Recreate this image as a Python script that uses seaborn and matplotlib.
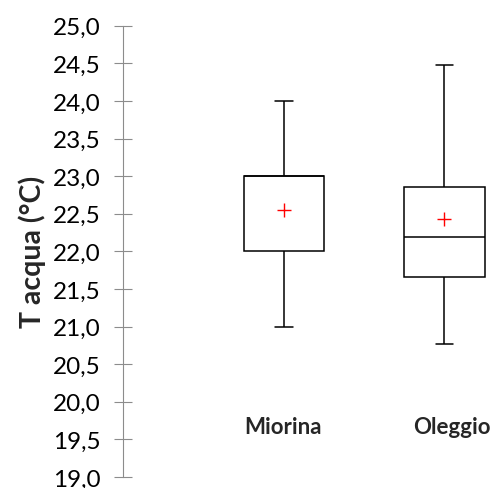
import matplotlib
matplotlib.use("Agg")
import matplotlib.pyplot as plt
import seaborn as sns
import pandas as pd
from matplotlib.ticker import MultipleLocator, FuncFormatter

# Five-number summaries (min, Q1, median, Q3, max) and means per station
categories = ["Miorina", "Oleggio"]
whisker_low = [21.0, 20.77]
q1 = [22.0, 21.66]
median = [23.0, 22.19]
q3 = [23.0, 22.86]
whisker_high = [24.0, 24.48]
means = [22.55, 22.43]

y_ticks_min, y_ticks_max, y_step = 19.0, 25.0, 0.5

sns.set_style("white")
plt.rcParams["font.family"] = ["Lato", "DejaVu Sans"]

# Long-form table: with five sorted values per group, linear percentiles
# land exactly on Q1 / median / Q3, and whis=(0, 100) reaches min / max.
rows = []
for i, cat in enumerate(categories):
    for v in (whisker_low[i], q1[i], median[i], q3[i], whisker_high[i]):
        rows.append({"station": cat, "temp": v})
df = pd.DataFrame(rows)

fig = plt.figure(figsize=(4.91, 4.89), dpi=100)
ax = fig.add_axes([0.2505, 0.0225, 0.7495, 0.9229])

sns.boxplot(
    data=df, x="station", y="temp", order=categories,
    whis=(0, 100), width=0.5, color="white", linecolor="black",
    linewidth=1.1, showfliers=False, ax=ax, capwidths=0.11,
)
sns.scatterplot(
    x=categories, y=means, marker="+", color="red", s=110,
    linewidth=1.0, ax=ax, zorder=5,
)

ax.set_xlim(-1, 1.29)
ax.set_ylim(y_ticks_min, y_ticks_max)
ax.yaxis.set_major_locator(MultipleLocator(y_step))
ax.yaxis.set_major_formatter(FuncFormatter(lambda v, _: f"{v:.1f}".replace(".", ",")))

for s in ("top", "right", "bottom"):
    ax.spines[s].set_visible(False)
ax.spines["left"].set_color("#8c8c8c")
ax.spines["left"].set_linewidth(0.8)
ax.tick_params(axis="y", left=True, direction="inout", length=12.5, width=0.8,
               color="#8c8c8c", labelsize=17.5, pad=9.5, labelcolor="black")
ax.set_xticks([])
ax.set_xlabel("")
ax.set_ylabel("T acqua (°C)", fontsize=20.5, fontweight="bold")
ax.yaxis.set_label_coords(-0.21, 0.5)

# Station names sit inside the plot area, just above the 19,5 line
label_shift_px = [-1, 7]
for i, cat in enumerate(categories):
    ax.annotate(cat, xy=(i, 19.585), xytext=(label_shift_px[i] * 0.72, 0),
                textcoords="offset points", ha="center", va="baseline",
                fontsize=16, fontweight="bold")

fig.savefig("out.png", dpi=100)
